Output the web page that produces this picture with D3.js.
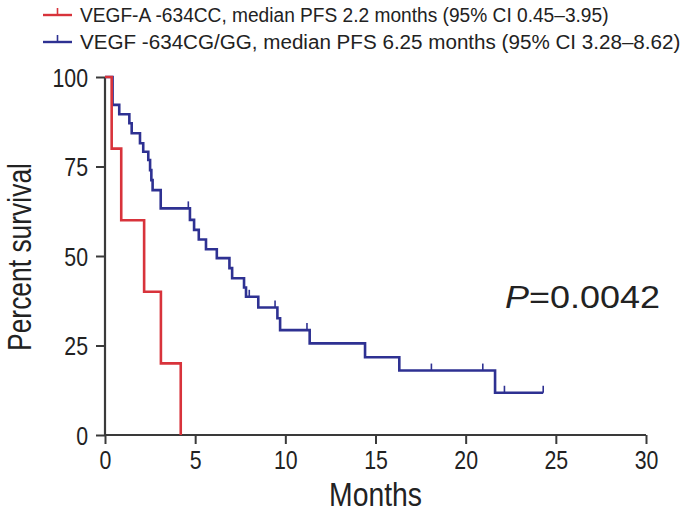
<!DOCTYPE html>
<html><head><meta charset="utf-8">
<script src="https://cdn.jsdelivr.net/npm/d3@7"></script>
<style>body{margin:0;background:#fff}svg{display:block}text{font-family:"Liberation Sans",Arial,sans-serif;fill:#222}</style>
</head><body><svg id="c" width="689" height="518"></svg>
<script>
// Data (months, percent survival after each step)
const redSteps = [[0,100],[0.37,80],[0.9,60],[2.17,40],[3.1,20],[4.2,0]];
const redEnd = 4.2;
const redCensor = [];
const blueSteps = [[0,100],[0.42,92.2],[0.79,89.6],[1.35,87.1],[1.48,84.3],[1.94,81.5],[2.12,79.1],[2.4,76.8],[2.5,74.0],[2.57,71.2],[2.64,68.4],[3.09,63.3],
  [4.71,60.1],[4.94,57.3],[5.2,54.6],[5.6,51.9],[6.2,49.4],[6.9,46.6],[7.05,43.8],[7.71,41.2],[7.82,38.6],[8.5,35.6],[9.56,32.6],[9.71,29.3],
  [11.35,25.6],[14.42,21.7],[16.32,18.0],[21.63,11.8]];
const blueEnd = 24.3;
const blueCensor = [4.62,8.0,9.43,11.2,18.1,20.95,22.15,24.3];
const xTicks = [0,5,10,15,20,25,30];
const yTicks = [0,25,50,75,100];
const legendLabels = ["VEGF-A -634CC, median PFS 2.2 months (95% CI 0.45\u20133.95)",
                      "VEGF -634CG/GG, median PFS 6.25 months (95% CI 3.28\u20138.62)"];
const pLabel = "=0.0042";

const svg = d3.select("#c");
const m = {l:105, r:43, t:77, b:83};
const W = 689, H = 518;
const x = d3.scaleLinear().domain([0,30]).range([m.l, W-m.r]);
const y = d3.scaleLinear().domain([0,100]).range([H-m.b, m.t]);

const red = "#d8333b", blue = "#2e3192", axisC = "#3a3a3a";
const NARROW = 0.82;

// horizontally condense a text node about its anchor point
function narrow(node, f){
  const ax = +node.getAttribute("x") || 0, ay = +node.getAttribute("y") || 0;
  const prev = node.getAttribute("transform") || "";
  node.setAttribute("transform", `${prev} translate(${ax},${ay}) scale(${f},1) translate(${-ax},${-ay})`);
}
function fitTo(node, target){ narrow(node, target / node.getComputedTextLength()); }

// axes
const gx = svg.append("g").attr("transform",`translate(0,${H-m.b})`)
  .call(d3.axisBottom(x).tickValues(xTicks).tickSize(9).tickPadding(7).tickFormat(d3.format("d")));
const gy = svg.append("g").attr("transform",`translate(${m.l},0)`)
  .call(d3.axisLeft(y).tickValues(yTicks).tickSize(9).tickPadding(8).tickFormat(d3.format("d")));
[gx,gy].forEach(g=>{
  g.selectAll("path.domain").attr("stroke",axisC).attr("stroke-width",2.2);
  g.selectAll(".tick line").attr("stroke",axisC).attr("stroke-width",2);
  g.selectAll(".tick text").style("font-size","26px").style("font-family",null).attr("fill","#222");
});
gx.select("path.domain").attr("d",`M${x(0)},0H${x(30)}`);
gy.select("path.domain").attr("d",`M0,${y(0)}V${y(100)}`);
gy.selectAll(".tick text").attr("dy","0.36em");
gx.selectAll(".tick text").each(function(){ narrow(this, NARROW); });
gy.selectAll(".tick text").each(function(){ narrow(this, NARROW); });

function stepData(steps, end){
  const pts = steps.slice();
  pts.push([end, steps[steps.length-1][1]]);
  return pts;
}
const line = d3.line().x(d=>x(d[0])).y(d=>y(d[1])).curve(d3.curveStepAfter);
function survAt(steps,t){let s=100;for(const d of steps){if(d[0]<=t)s=d[1];}return s;}

function drawCurve(steps,end,censor,color){
  svg.append("path").datum(stepData(steps,end)).attr("d",line)
    .attr("fill","none").attr("stroke",color).attr("stroke-width",2.6);
  svg.append("g").selectAll("line").data(censor).join("line")
    .attr("x1",d=>x(d)).attr("x2",d=>x(d))
    .attr("y1",d=>y(survAt(steps,d))-7).attr("y2",d=>y(survAt(steps,d)))
    .attr("stroke",color).attr("stroke-width",1.6);
}
drawCurve(blueSteps,blueEnd,blueCensor,blue);
drawCurve(redSteps,redEnd,redCensor,red);

// legend
const lg = svg.append("g");
[[red,15],[blue,42]].forEach(([c,yy],i)=>{
  lg.append("line").attr("x1",43).attr("x2",72).attr("y1",yy).attr("y2",yy).attr("stroke",c).attr("stroke-width",2.4);
  lg.append("line").attr("x1",57.5).attr("x2",57.5).attr("y1",yy-7).attr("y2",yy).attr("stroke",c).attr("stroke-width",1.6);
  const t = lg.append("text").attr("x",80).attr("y",yy+7.5).style("font-size","21px").text(legendLabels[i]);
  fitTo(t.node(), i===0?529:601);
});

// axis titles
const tm = svg.append("text").attr("x",x(15)).attr("y",506).attr("text-anchor","middle").style("font-size","33px").text("Months");
fitTo(tm.node(), 93);
const tp = svg.append("text").attr("transform",`translate(31,${y(50)+1}) rotate(-90)`).attr("text-anchor","middle").style("font-size","33px").text("Percent survival");
fitTo(tp.node(), 188);

// p-value
const pt = svg.append("text").attr("x",505).attr("y",308).style("font-size","32px");
pt.append("tspan").style("font-style","italic").text("P");
pt.append("tspan").text(pLabel);
fitTo(pt.node(), 155);
</script></body></html>
